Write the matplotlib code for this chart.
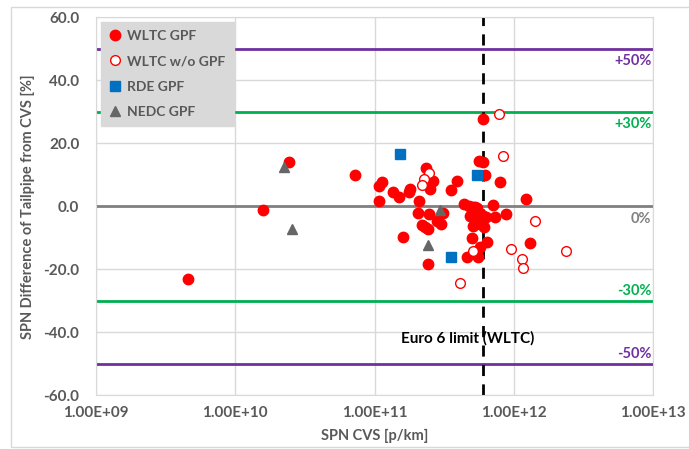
import matplotlib
matplotlib.use("Agg")
import matplotlib.pyplot as plt
import matplotlib.patches as mpatches

plt.rcParams['font.family'] = ['Lato', 'DejaVu Sans']
plt.rcParams['font.weight'] = 'bold'

# WLTC with GPF (filled red circles)
wltc_gpf_x = [4.6e9, 1.57e10, 2.44e10, 7.2e10, 5.97e11, 5.65e11, 6.03e11, 2.34e11, 6.2e11,
              7.94e11, 3.88e11, 2.61e11, 1.14e11, 1.08e11, 2.5e11, 1.8e11, 1.77e11, 3.56e11,
              1.36e11, 1.5e11, 1.08e11, 2.07e11, 1.22e12, 7.08e11, 4.39e11, 4.76e11, 5.26e11,
              2.06e11, 2.47e11, 3.11e11, 4.84e11, 5.41e11, 5.87e11, 6.28e11, 7.35e11, 8.81e11,
              2.82e11, 2.98e11, 2.19e11, 2.29e11, 2.43e11, 5.12e11, 5.71e11, 6.1e11, 1.6e11,
              5.0e11, 6.38e11, 5.71e11, 1.31e12, 4.62e11, 5.55e11, 2.44e11, 5.12e11, 5.41e11,
              5.52e11]
wltc_gpf_y = [-23.2, -1.3, 14.2, 10.0, 27.7, 14.4, 14.0, 12.1, 10.0,
              7.6, 8.1, 7.9, 7.6, 6.5, 5.4, 5.4, 4.6, 5.2,
              4.5, 2.9, 1.7, 1.7, 2.4, 0.5, 0.6, 0.1, -0.1,
              -2.2, -2.4, -2.2, -3.0, -2.2, -2.8, -3.3, -3.3, -2.5,
              -4.6, -5.6, -5.8, -6.6, -7.3, -6.3, -5.6, -6.5, -9.8,
              -10.0, -11.4, -12.8, -11.7, -16.0, -16.0, -18.4, -0.1, -0.6,
              -4.3]

# WLTC without GPF (open red circles)
wltc_nogpf_x = [7.78e11, 8.4e11, 2.47e11, 2.26e11, 2.19e11, 1.41e12, 5.06e11, 9.53e11,
                1.14e12, 1.16e12, 2.39e12, 4.12e11]
wltc_nogpf_y = [29.3, 16.1, 10.6, 8.6, 6.9, -4.8, -14.1, -13.7,
                -16.7, -19.5, -14.1, -24.3]

# RDE with GPF (blue squares)
rde_x = [1.53e11, 5.43e11, 3.56e11]
rde_y = [16.5, 9.8, -16.1]

# NEDC with GPF (grey triangles)
nedc_x = [2.24e10, 2.56e10, 2.94e11, 2.42e11]
nedc_y = [12.6, -7.3, -1.2, -12.4]

euro6_limit = 6e11
ref_levels = [50, 30, 0, -30, -50]
ref_labels = ["+50%", "+30%", "0%", "-30%", "-50%"]
ref_colors = ["#7030a0", "#00b050", "#808080", "#00b050", "#7030a0"]

txt = "#595959"

fig = plt.figure(figsize=(6.89, 4.49), dpi=100)
ax = fig.add_axes([0.1393, 0.1196, 0.8085, 0.8419])

ax.set_xscale("log")
ax.set_xlim(1e9, 1e13)
ax.set_ylim(-60, 60)
ax.set_yticks(range(-60, 61, 20))
ax.set_yticklabels(["%.1f" % v for v in range(-60, 61, 20)])
ax.set_xticks([1e9, 1e10, 1e11, 1e12, 1e13])
ax.set_xticklabels(["1.00E+09", "1.00E+10", "1.00E+11", "1.00E+12", "1.00E+13"])
ax.minorticks_off()
ax.grid(True, color="#d9d9d9", linewidth=1.0)
ax.set_axisbelow(True)
for s in ax.spines.values():
    s.set_color("#d9d9d9")
ax.tick_params(length=0, labelsize=11, labelcolor=txt)
ax.tick_params(axis="y", pad=12)
ax.tick_params(axis="x", pad=8)

for lev, lab, col in zip(ref_levels, ref_labels, ref_colors):
    ax.axhline(lev, color=col, linewidth=2.0, zorder=1.5)
    va = "top" if lev >= 0 else "bottom"
    off = -1.8 if lev >= 0 else 1.0
    ax.text(0.997, lev + off, lab, transform=ax.get_yaxis_transform(), ha="right", va=va,
            color=col, fontsize=10.5, fontweight="bold")

ax.axvline(euro6_limit, color="black", linewidth=2.0, linestyle=(0, (4, 3)), zorder=1.6)
ax.text(4.7e11, -42, "Euro 6 limit (WLTC)", ha="center", va="center", fontsize=11,
        fontweight="bold", color="black")

ax.plot(wltc_gpf_x, wltc_gpf_y, "o", color="#ff0000", markersize=7.5, linestyle="none",
        label="WLTC GPF", zorder=3)
ax.plot(wltc_nogpf_x, wltc_nogpf_y, "o", markerfacecolor="white", markeredgecolor="#ff0000",
        markeredgewidth=1.0, markersize=7, linestyle="none", label="WLTC w/o GPF", zorder=3)
ax.plot(rde_x, rde_y, "s", color="#0070c0", markersize=6.5, linestyle="none",
        label="RDE GPF", zorder=3)
ax.plot(nedc_x, nedc_y, "^", color="#666666", markersize=7, linestyle="none",
        label="NEDC GPF", zorder=3)

leg = ax.legend(loc="upper left", bbox_to_anchor=(0.009, 0.988), borderaxespad=0,
                frameon=True, facecolor="#d9d9d9", edgecolor="#d9d9d9",
                framealpha=1, fancybox=False, labelspacing=0.95, handlelength=0.8,
                handletextpad=0.5, borderpad=0.6, prop={"weight": "bold", "size": 10})
for t in leg.get_texts():
    t.set_color(txt)

ax.set_xlabel("SPN CVS [p/km]", fontsize=10.5, fontweight="bold", color=txt, labelpad=6)
ax.set_ylabel("SPN Difference of Tailpipe from CVS [%]", fontsize=10.5, fontweight="bold",
              color=txt, labelpad=6)

border = mpatches.Rectangle((11 / 689, 1 - 446.7 / 449), 1.0, (446.7 - 7.3) / 449,
                            transform=fig.transFigure, fill=False, edgecolor="#d9d9d9",
                            linewidth=1.0)
fig.patches.append(border)

fig.savefig("out.png", dpi=100)
